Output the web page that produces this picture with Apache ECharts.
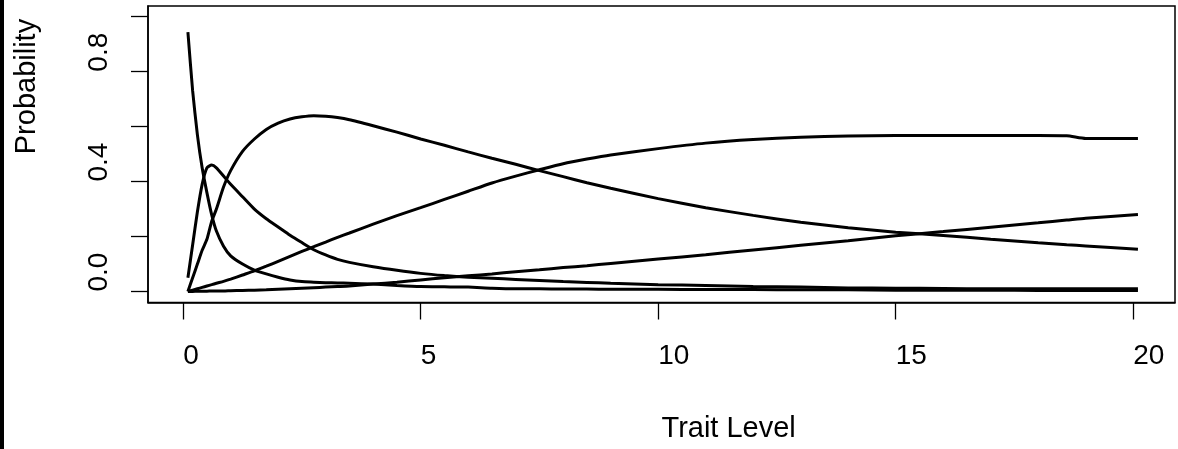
<!DOCTYPE html>
<html>
<head>
<meta charset="utf-8">
<script src="https://cdn.jsdelivr.net/npm/echarts@6/dist/echarts.min.js"></script>
<style>
  html, body { margin: 0; padding: 0; background: #fff; }
  #chart { width: 1178px; height: 449px; }
</style>
</head>
<body>
<div id="chart"></div>
<script>
// Trait levels (x)
const traitLevels = [0.1, 0.2, 0.3, 0.4, 0.5, 0.6, 0.7, 0.85, 1.0, 1.25, 1.5, 1.75, 2.0, 2.25, 2.5, 2.75, 3.0, 3.25, 3.5, 4.0, 4.5, 5.0, 5.5, 6.0, 6.5, 7.0, 7.5, 8.0, 8.5, 9.0, 10, 11, 12, 13, 14, 15, 16, 17, 18, 18.6, 19, 20.1];
// Category response curves (probabilities)
const cat1 = [0.944, 0.73, 0.57, 0.45, 0.36, 0.28, 0.22, 0.165, 0.13, 0.10, 0.078, 0.064, 0.052, 0.042, 0.036, 0.034, 0.032, 0.031, 0.030, 0.027, 0.022, 0.018, 0.017, 0.016, 0.012, 0.010, 0.010, 0.009, 0.009, 0.008, 0.008, 0.007, 0.007, 0.006, 0.006, 0.005, 0.005, 0.005, 0.004, 0.004, 0.004, 0.004];
const cat2 = [0.05, 0.17, 0.29, 0.39, 0.45, 0.46, 0.45, 0.42, 0.39, 0.345, 0.30, 0.265, 0.235, 0.205, 0.178, 0.152, 0.133, 0.117, 0.106, 0.090, 0.077, 0.066, 0.058, 0.052, 0.048, 0.044, 0.040, 0.036, 0.033, 0.030, 0.025, 0.022, 0.018, 0.016, 0.013, 0.012, 0.011, 0.010, 0.010, 0.010, 0.010, 0.010];
const cat3 = [0.0, 0.05, 0.10, 0.15, 0.19, 0.255, 0.30, 0.38, 0.44, 0.51, 0.555, 0.59, 0.613, 0.628, 0.636, 0.64, 0.638, 0.633, 0.625, 0.603, 0.58, 0.555, 0.532, 0.508, 0.485, 0.463, 0.44, 0.418, 0.396, 0.376, 0.338, 0.305, 0.277, 0.252, 0.232, 0.216, 0.204, 0.19, 0.177, 0.17, 0.166, 0.154];
const cat4 = [0.0, 0.005, 0.01, 0.015, 0.02, 0.025, 0.03, 0.037, 0.045, 0.06, 0.075, 0.092, 0.11, 0.128, 0.146, 0.163, 0.18, 0.197, 0.213, 0.245, 0.276, 0.305, 0.335, 0.365, 0.395, 0.42, 0.443, 0.465, 0.482, 0.497, 0.52, 0.54, 0.553, 0.561, 0.566, 0.568, 0.568, 0.568, 0.568, 0.567, 0.557, 0.557];
const cat5 = [0.0, 0.0, 0.001, 0.001, 0.001, 0.002, 0.002, 0.002, 0.003, 0.004, 0.005, 0.006, 0.008, 0.010, 0.012, 0.014, 0.016, 0.018, 0.020, 0.027, 0.034, 0.042, 0.050, 0.057, 0.064, 0.072, 0.079, 0.087, 0.094, 0.102, 0.118, 0.134, 0.151, 0.168, 0.185, 0.203, 0.218, 0.234, 0.25, 0.26, 0.267, 0.28];
// Axis ticks / labels
const xTicks = [0, 5, 10, 15, 20];
const yTicks = [0, 0.2, 0.4, 0.6, 0.8, 1.0];
const yLabels = [0, 0.4, 0.8];
const xTitle = 'Trait Level';
const yTitle = 'Probability';

const curves = [cat1, cat2, cat3, cat4, cat5];
const FONT = '"Liberation Sans", Arial, Helvetica, sans-serif';

const chart = echarts.init(document.getElementById('chart'), null, { renderer: 'canvas' });
chart.setOption({
  animation: false,
  backgroundColor: '#fff',
  graphic: [{ type: 'rect', left: 0, top: 0, shape: { x: 0, y: 0, width: 4, height: 449 }, style: { fill: '#000' }, silent: true }],
  grid: { left: 148, right: 3, top: 6, bottom: 146.5, show: true, borderColor: '#000', borderWidth: 1.5, backgroundColor: 'transparent' },
  xAxis: {
    type: 'value', min: -0.74, max: 20.88,
    name: xTitle, nameLocation: 'middle', nameGap: 112,
    nameTextStyle: { fontFamily: FONT, fontSize: 29, color: '#000', align: 'left', verticalAlign: 'top' },
    axisLine: { show: true, onZero: false, lineStyle: { color: '#000', width: 1.5 } },
    axisTick: { show: true, length: 17, customValues: xTicks, lineStyle: { color: '#000', width: 1.3 } },
    axisLabel: { show: true, customValues: xTicks, margin: 40, fontFamily: FONT, fontSize: 28, color: '#000', align: 'left', verticalAlign: 'top' },
    splitLine: { show: false }
  },
  yAxis: {
    type: 'value', min: -0.04, max: 1.039,
    name: yTitle, nameLocation: 'middle', nameGap: 107, nameRotate: 90,
    nameTextStyle: { fontFamily: FONT, fontSize: 29, color: '#000', align: 'left', verticalAlign: 'bottom' },
    axisLine: { show: true, onZero: false, lineStyle: { color: '#000', width: 1.5 } },
    axisTick: { show: true, length: 17, customValues: yTicks, lineStyle: { color: '#000', width: 1.3 } },
    axisLabel: { show: true, customValues: yLabels, rotate: 90, margin: 35, fontFamily: FONT, fontSize: 28, color: '#000', align: 'left', verticalAlign: 'bottom', formatter: v => Number(v).toFixed(1) },
    splitLine: { show: false }
  },
  series: curves.map((c, i) => ({
    type: 'line', name: 'Category ' + (i + 1),
    data: traitLevels.map((x, j) => [x, c[j]]),
    showSymbol: false, smooth: 0.2, clip: true,
    lineStyle: { color: '#000', width: 3 }
  }))
});
</script>
</body>
</html>
